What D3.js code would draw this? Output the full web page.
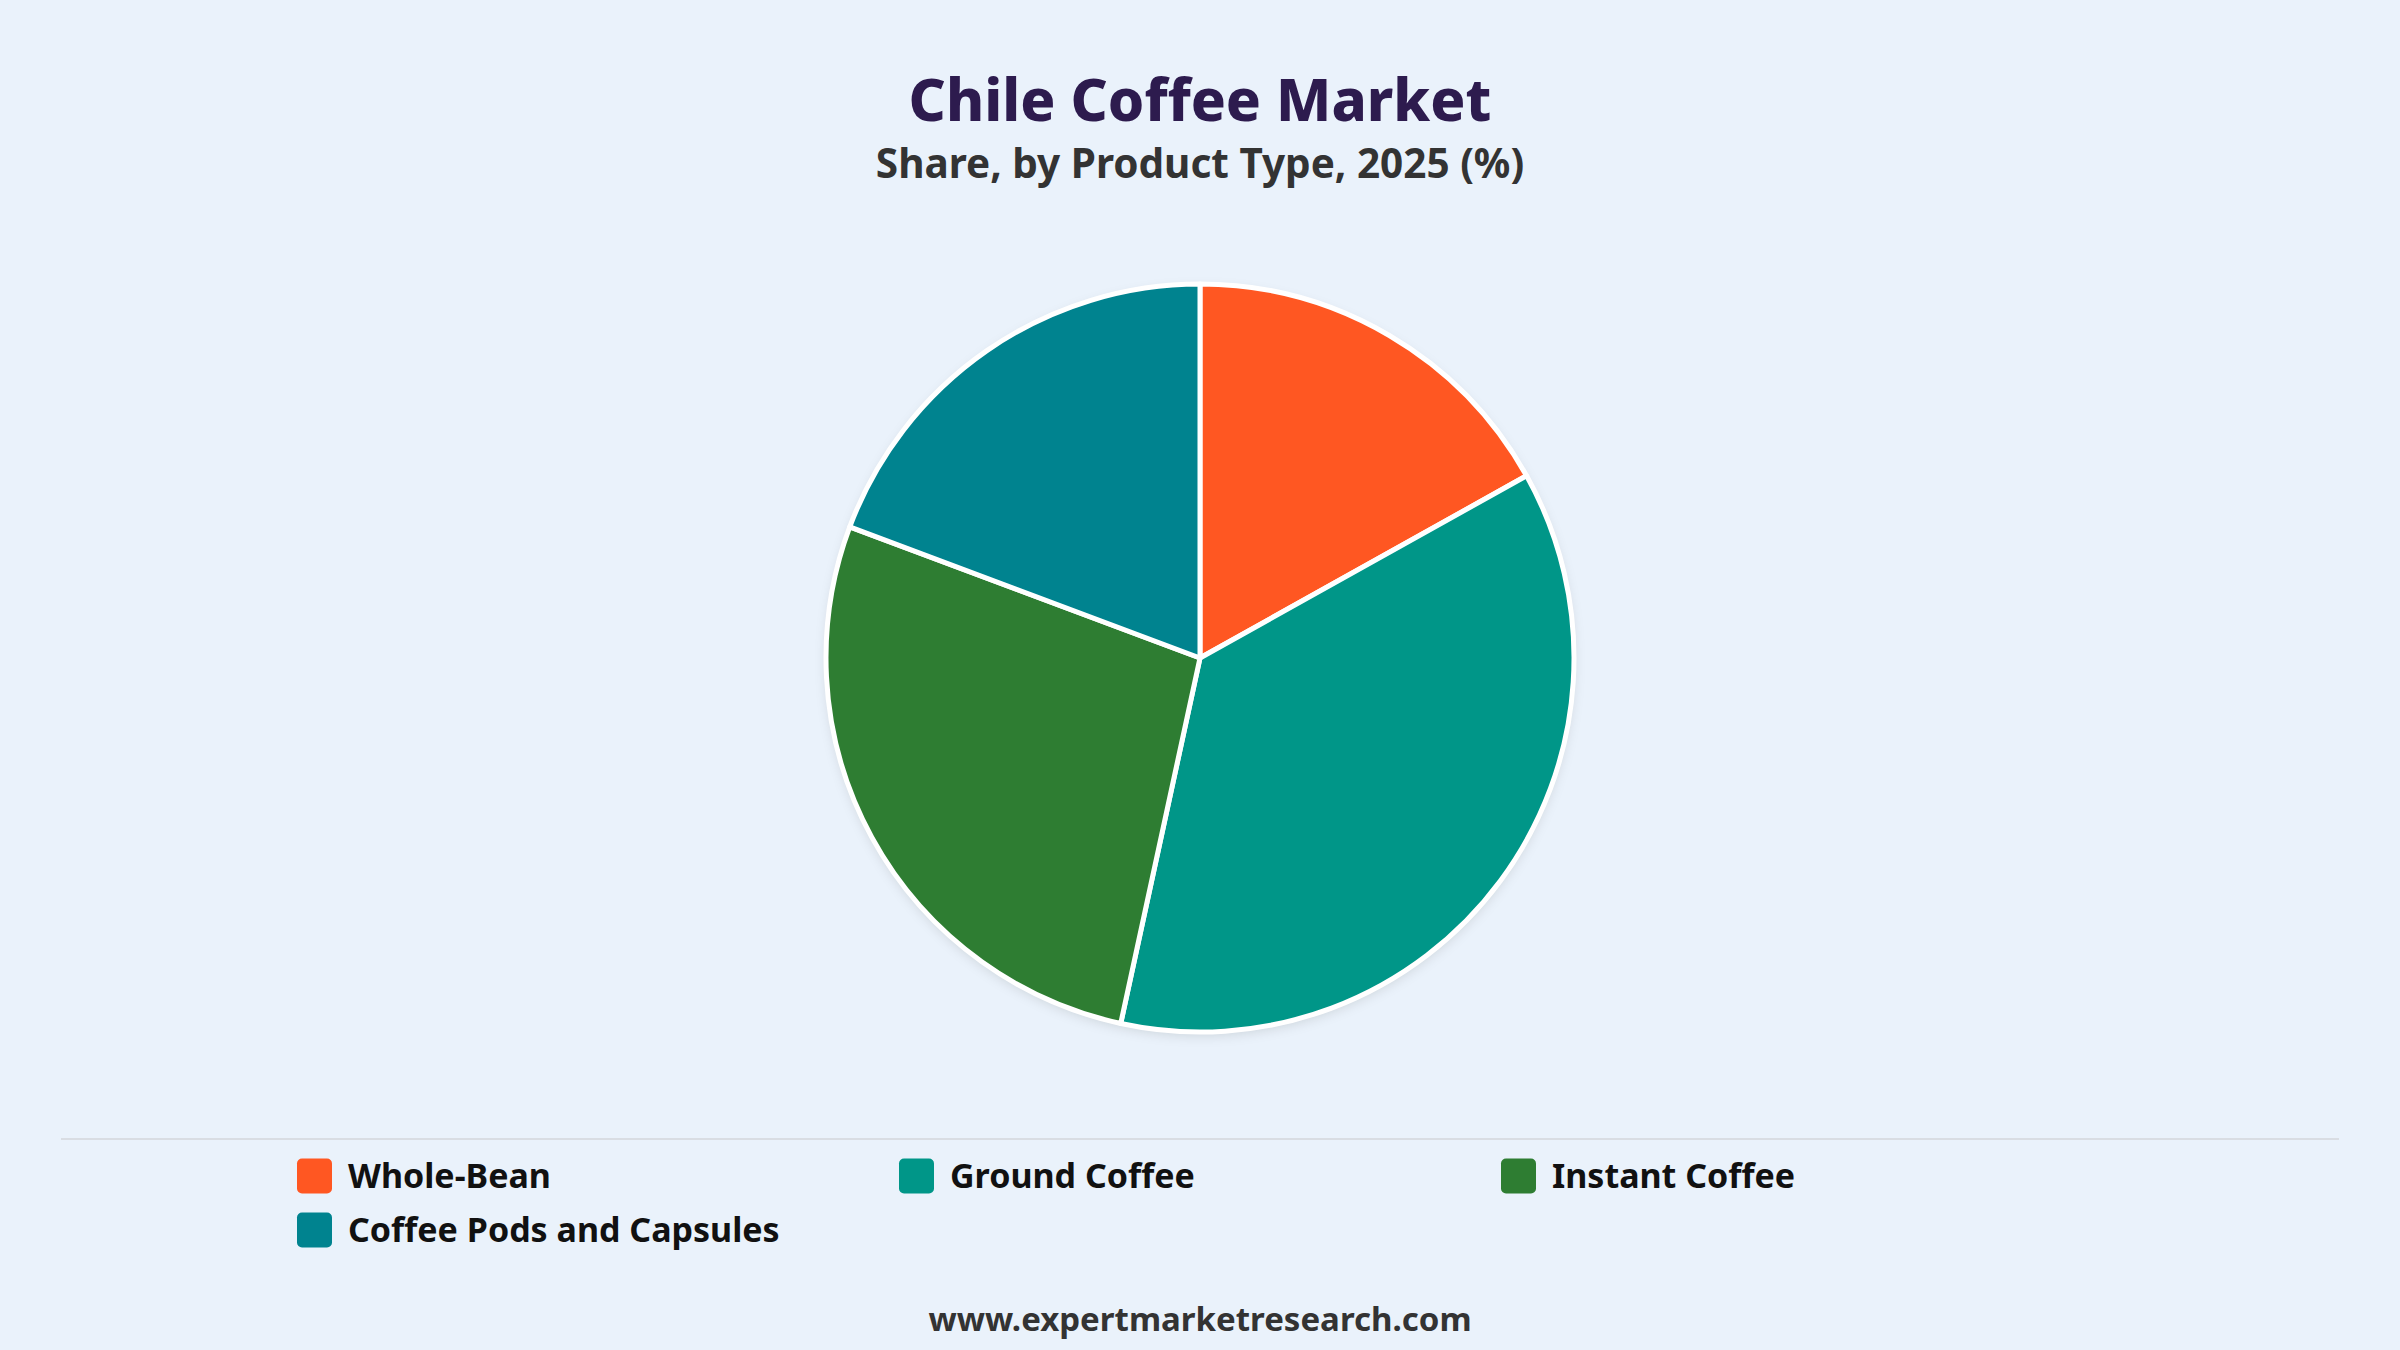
<!DOCTYPE html>
<html><head><meta charset="utf-8">
<script src="https://cdn.jsdelivr.net/npm/d3@7"></script>
<style>
html,body{margin:0;padding:0;background:#eaf2fb;}
svg{display:block;}
</style></head>
<body>
<svg id="chart" width="2400" height="1350"></svg>
<script>
const categories = ["Whole-Bean", "Ground Coffee", "Instant Coffee", "Coffee Pods and Capsules"];
const shares = [16.9, 36.5, 27.3, 19.3];
const colors = ["#ff5722", "#009688", "#2e7d32", "#00838f"];
const titleText = "Chile Coffee Market";
const subtitleText = "Share, by Product Type, 2025 (%)";
const footerText = "www.expertmarketresearch.com";

const W = 2400, H = 1350;
const svg = d3.select("#chart");
const font = "'Noto Sans', 'Open Sans', sans-serif";

svg.append("rect").attr("width", W).attr("height", H).attr("fill", "#eaf2fb");

const defs = svg.append("defs");
const f = defs.append("filter").attr("id", "shadow").attr("x", "-20%").attr("y", "-20%").attr("width", "140%").attr("height", "140%");
f.append("feDropShadow").attr("dx", 0).attr("dy", 4).attr("stdDeviation", 6).attr("flood-color", "#000").attr("flood-opacity", 0.12);

svg.append("text").attr("x", W/2).attr("y", 121).attr("text-anchor", "middle")
  .attr("font-family", font).attr("font-weight", 800).attr("font-size", 58)
  .attr("fill", "#2d1b4e").text(titleText);
svg.append("text").attr("x", W/2).attr("y", 178).attr("text-anchor", "middle")
  .attr("font-family", font).attr("font-weight", 700).attr("font-size", 40.5)
  .attr("fill", "#333333").text(subtitleText);

const cx = 1200, cy = 658, R = 374;
const pie = d3.pie().sort(null).value(d => d.v);
const arc = d3.arc().innerRadius(0).outerRadius(R);
const data = categories.map((c, i) => ({c, v: shares[i], col: colors[i]}));
const g = svg.append("g").attr("transform", `translate(${cx},${cy})`);
g.append("circle").attr("r", R).attr("fill", "#fff").attr("filter", "url(#shadow)");
g.selectAll("path").data(pie(data)).join("path")
  .attr("d", arc).attr("fill", d => d.data.col)
  .attr("stroke", "#ffffff").attr("stroke-width", 5).attr("stroke-linejoin", "round");

svg.append("line").attr("x1", 61).attr("x2", 2339).attr("y1", 1139).attr("y2", 1139)
  .attr("stroke", "#d9dde3").attr("stroke-width", 2);

const colX = [297, 899, 1501];
const rowY = [1176, 1230];
const lg = svg.append("g");
data.forEach((d, i) => {
  const x = colX[i % 3], y = rowY[Math.floor(i / 3)];
  lg.append("rect").attr("x", x).attr("y", y - 17.5).attr("width", 35).attr("height", 35)
    .attr("rx", 5).attr("fill", d.col);
  lg.append("text").attr("x", x + 51).attr("y", y).attr("dy", "0.35em")
    .attr("font-family", font).attr("font-weight", 700).attr("font-size", 34)
    .attr("fill", "#111111").text(d.c);
});

svg.append("text").attr("x", W/2).attr("y", 1331).attr("text-anchor", "middle")
  .attr("font-family", font).attr("font-weight", 700).attr("font-size", 33)
  .attr("fill", "#333333").text(footerText);
</script>
</body></html>
